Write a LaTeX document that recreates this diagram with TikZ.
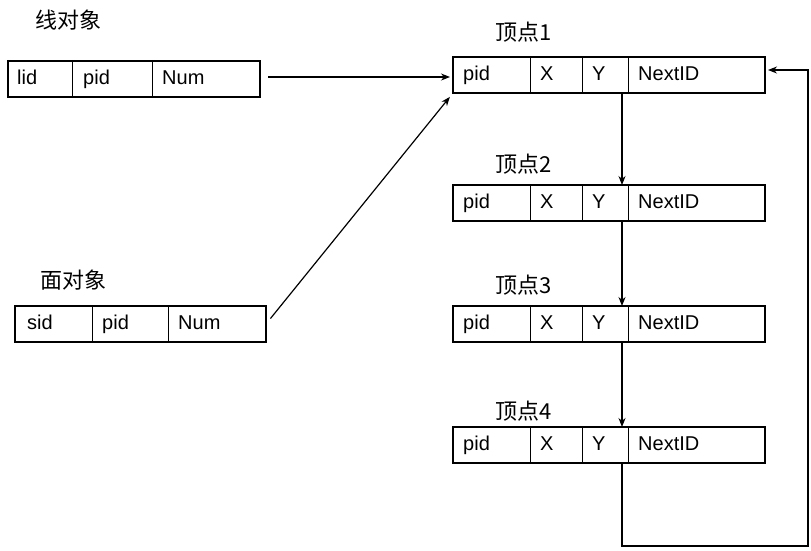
\documentclass[tikz,border=0pt]{standalone}
\usepackage{fontspec}
\setmainfont{Liberation Sans}
\newfontfamily\cjk{Noto Sans CJK SC}
\usetikzlibrary{arrows.meta}
\begin{document}
\begin{tikzpicture}[x=1pt,y=-1pt,
  rec/.style={draw, line width=1.8pt, minimum height=36pt, inner sep=0pt, outer sep=0pt, anchor=north west},
  field/.style={anchor=west, inner sep=0pt, text height=14pt, text depth=4pt, font=\fontsize{20}{20}\selectfont},
  lbl/.style={anchor=west, inner sep=0pt, font=\cjk\fontsize{22}{22}\selectfont},
  div/.style={line width=0.9pt},
  conn/.style={line width=1.2pt, -{Stealth[length=9pt,width=7pt]}}]
\useasboundingbox (0,0) rectangle (811,550);
\fill[white] (0,0) rectangle (811,550);

% line object
\node[lbl] (tline) at (35,20) {线对象};
\node[rec, minimum width=252pt] (line) at (8,61) {};
\draw[div] ([xshift=64pt]line.north west) -- ([xshift=64pt]line.south west);
\draw[div] ([xshift=144pt]line.north west) -- ([xshift=144pt]line.south west);
\node[field] (l1) at ([xshift=9pt]line.west) {lid};
\node[field] (l2) at ([xshift=75pt]line.west) {pid};
\node[field] (l3) at ([xshift=154pt]line.west) {Num};

% face object
\node[lbl] (tface) at (40,280) {面对象};
\node[rec, minimum width=251pt] (face) at (15,306) {};
\draw[div] ([xshift=77pt]face.north west) -- ([xshift=77pt]face.south west);
\draw[div] ([xshift=153pt]face.north west) -- ([xshift=153pt]face.south west);
\node[field] (f1) at ([xshift=12pt]face.west) {sid};
\node[field] (f2) at ([xshift=87pt]face.west) {pid};
\node[field] (f3) at ([xshift=163pt]face.west) {Num};

% vertices
\foreach \i/\y/\ly in {1/57/32, 2/185/164, 3/306/285, 4/427/411}{
  \node[lbl] (tv\i) at (495,\ly) {顶点\i};
  \node[rec, minimum width=312pt] (v\i) at (453,\y) {};
  \draw[div] ([xshift=77pt]v\i.north west) -- ([xshift=77pt]v\i.south west);
  \draw[div] ([xshift=129pt]v\i.north west) -- ([xshift=129pt]v\i.south west);
  \draw[div] ([xshift=175pt]v\i.north west) -- ([xshift=175pt]v\i.south west);
  \node[field] (p\i) at ([xshift=10pt]v\i.west) {pid};
  \node[field] (x\i) at ([xshift=87pt]v\i.west) {X};
  \node[field] (y\i) at ([xshift=139pt]v\i.west) {Y};
  \node[field] (n\i) at ([xshift=185pt]v\i.west) {NextID};
}

% connectors
\draw[conn, shorten <=8pt, shorten >=3pt] ([yshift=2pt]line.east) -- ([yshift=2pt]line.east -| v1.west);
\draw[conn, shorten <=7pt, shorten >=5pt] (face.east) -- (v1.south west);
\draw[conn] ([xshift=13pt]v1.south) -- ([xshift=13pt]v2.north);
\draw[conn] ([xshift=13pt]v2.south) -- ([xshift=13pt]v3.north);
\draw[conn] ([xshift=13pt]v3.south) -- ([xshift=13pt]v4.north);
\coordinate (loopR) at (808,546);
\draw[conn, shorten >=3pt] ([xshift=13pt]v4.south) |- (loopR) |- ([yshift=5pt]v1.east);
\end{tikzpicture}
\end{document}
